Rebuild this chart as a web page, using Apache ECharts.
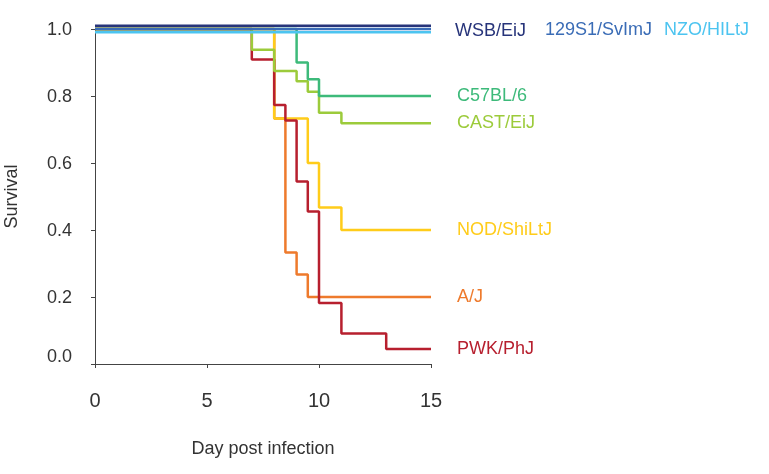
<!DOCTYPE html>
<html>
<head>
<meta charset="utf-8">
<title>Survival</title>
<script src="https://cdn.jsdelivr.net/npm/echarts@6/dist/echarts.min.js"></script>
<style>
  html, body { margin: 0; padding: 0; background: #fff; }
  #main { width: 769px; height: 474px; }
</style>
</head>
<body>
<div id="main"></div>
<script>
// strains (drawing order: bottom first)
var strains = ['A/J', 'NOD/ShiLtJ', 'PWK/PhJ', 'CAST/EiJ', 'C57BL/6', 'NZO/HILtJ', 'WSB/EiJ', '129S1/SvImJ'];
var colors  = ['#ee7a2c', '#ffcc1a', '#b71f2e', '#9ccb3b', '#3dba7a', '#4cc4f0', '#27347a', '#3a6cb6'];

// day of each step and survival after it
var ajDays    = [0, 8, 8.5, 9, 9.5, 15];
var ajSurv    = [1, 0.733, 0.333, 0.267, 0.2, 0.2];
var nodDays   = [0, 8, 9.5, 10, 11, 15];
var nodSurv   = [1, 0.733, 0.6, 0.467, 0.4, 0.4];
var pwkDays   = [0, 7, 8, 8.5, 9, 9.5, 10, 11, 13, 15];
var pwkSurv   = [1, 0.909, 0.773, 0.727, 0.545, 0.455, 0.182, 0.091, 0.045, 0.045];
var castDays  = [0, 7, 8, 9, 9.5, 10, 11, 15];
var castSurv  = [1, 0.938, 0.875, 0.844, 0.813, 0.75, 0.719, 0.719];
var c57Days   = [0, 9, 9.5, 10, 15];
var c57Surv   = [1, 0.9, 0.85, 0.8, 0.8];
// the three surviving strains are drawn slightly apart at 1.0
var nzoDays   = [0, 15];
var nzoSurv   = [0.99, 0.99];
var wsbDays   = [0, 15];
var wsbSurv   = [1.01, 1.01];
var s129Days  = [0, 15];
var s129Surv  = [1, 1];

var xTicks = [0, 5, 10, 15];
var yTicks = [0, 0.2, 0.4, 0.6, 0.8, 1.0];

var allDays = [ajDays, nodDays, pwkDays, castDays, c57Days, nzoDays, wsbDays, s129Days];
var allSurv = [ajSurv, nodSurv, pwkSurv, castSurv, c57Surv, nzoSurv, wsbSurv, s129Surv];
// end label placement [distance, dy]
var labelPos = [[26, 0], [26, 0], [26, 0], [26, 0], [26, 0], [233, -2], [24, 5], [114, 1]];

var font = 'Liberation Sans, Helvetica, Arial, sans-serif';

function pairs(xs, ys) {
    var out = [];
    for (var i = 0; i < xs.length; i++) {
        out.push([xs[i], ys[i]]);
    }
    return out;
}

var series = [];
for (var k = 0; k < strains.length; k++) {
    series.push({
        name: strains[k],
        type: 'line',
        step: 'end',
        symbol: 'none',
        clip: false,
        silent: true,
        lineStyle: { color: colors[k], width: 2.5 },
        itemStyle: { color: colors[k] },
        endLabel: {
            show: true,
            formatter: '{a}',
            color: colors[k],
            fontSize: 18,
            fontFamily: font,
            distance: labelPos[k][0],
            offset: [0, labelPos[k][1]]
        },
        data: pairs(allDays[k], allSurv[k])
    });
}

var myChart = echarts.init(document.getElementById('main'));

var option = {
    animation: false,
    grid: { left: 95, right: 338, top: 29, bottom: 110 },
    xAxis: {
        type: 'value',
        min: xTicks[0],
        max: xTicks[xTicks.length - 1],
        interval: 5,
        name: 'Day post infection',
        nameLocation: 'middle',
        nameGap: 76,
        nameTextStyle: { fontSize: 18, color: '#333', fontFamily: font },
        axisLine: { lineStyle: { color: '#444', width: 1 } },
        axisTick: { show: true, length: 4, lineStyle: { color: '#444' } },
        axisLabel: { fontSize: 20, color: '#333', fontFamily: font, margin: 27 },
        splitLine: { show: false }
    },
    yAxis: {
        type: 'value',
        min: yTicks[0],
        max: yTicks[yTicks.length - 1],
        interval: 0.2,
        name: 'Survival',
        nameLocation: 'middle',
        nameGap: 74,
        nameTextStyle: { fontSize: 18, color: '#333', fontFamily: font },
        axisLine: { show: true, lineStyle: { color: '#444', width: 1 } },
        axisTick: { show: true, length: 4, lineStyle: { color: '#444' } },
        axisLabel: {
            fontSize: 18, color: '#333', fontFamily: font, margin: 23,
            // 0.0 sits a little above its tick in the original
            formatter: function (v) {
                return v === 0 ? '{z|0.0}' : '{n|' + v.toFixed(1) + '}';
            },
            rich: {
                z: { fontSize: 18, color: '#333', fontFamily: font, padding: [0, 0, 14, 0] },
                n: { fontSize: 18, color: '#333', fontFamily: font, padding: [3, 0, 0, 0] }
            }
        },
        splitLine: { show: false }
    },
    series: series
};

myChart.setOption(option);
</script>
</body>
</html>
